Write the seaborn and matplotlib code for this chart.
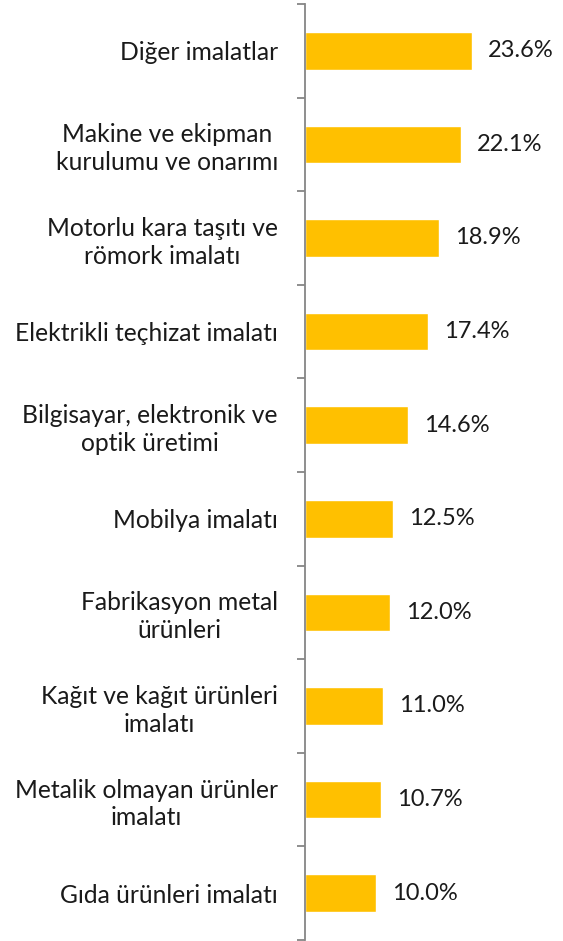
import matplotlib
matplotlib.use("Agg")
import matplotlib.pyplot as plt
import seaborn as sns
import pandas as pd
import numpy as np

categories = [
    "Diğer imalatlar",
    "Makine ve ekipman\nkurulumu ve onarımı",
    "Motorlu kara taşıtı ve\nrömork imalatı",
    "Elektrikli teçhizat imalatı",
    "Bilgisayar, elektronik ve\noptik üretimi",
    "Mobilya imalatı",
    "Fabrikasyon metal\nürünleri",
    "Kağıt ve kağıt ürünleri\nimalatı",
    "Metalik olmayan ürünler\nimalatı",
    "Gıda ürünleri imalatı",
]
values = [23.6, 22.1, 18.9, 17.4, 14.6, 12.5, 12.0, 11.0, 10.7, 10.0]

df = pd.DataFrame({"kategori": categories, "oran": values})

sns.set_style("white")
plt.rcParams["font.family"] = ["Lato", "DejaVu Sans"]

W, H = 563, 941
fig = plt.figure(figsize=(W / 100, H / 100), dpi=100)
ax = fig.add_axes([305 / W, 1 / H, (W - 305) / W, 936 / H])

sns.barplot(data=df, y="kategori", x="oran", orient="h", color="#FFC000",
            width=0.4, saturation=1, ax=ax)

ax.set_xlim(0, (W - 305) / 7.07)
ax.set_ylim(len(categories) - 0.5, -0.5)
ax.set_xlabel("")
ax.set_ylabel("")
ax.set_xticks([])

for s in ["top", "right", "bottom"]:
    ax.spines[s].set_visible(False)
ax.spines["left"].set_color("#868686")
ax.spines["left"].set_linewidth(1.3)

ax.set_yticks(np.arange(-0.5, len(categories)), minor=True)
ax.tick_params(axis="y", which="minor", length=6, width=1.3, color="#868686", left=True)
ax.tick_params(axis="y", which="major", length=0, pad=19.5, labelsize=17.7,
               labelcolor="#1a1a1a")
for lbl in ax.get_yticklabels():
    lbl.set_multialignment("center")
    lbl.set_linespacing(1.25)

for i, v in enumerate(values):
    ax.text(v + 16 / 7.07, i, f"{v:.1f}%", va="center", ha="left", fontsize=17,
            color="#1a1a1a")

fig.savefig("out.png", dpi=100)
